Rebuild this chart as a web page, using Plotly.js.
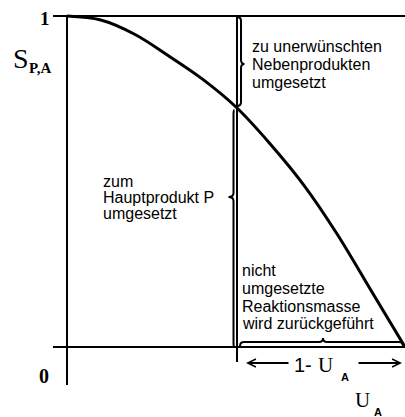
<!DOCTYPE html>
<html>
<head>
<meta charset="utf-8">
<script src="https://cdn.plot.ly/plotly-3.0.1.min.js"></script>
<style>html,body{margin:0;padding:0;background:#fff}#chart{width:405px;height:417px}</style>
</head>
<body>
<div id="chart"></div>
<script>
// ---- data ----
const conversionU = [0, 0.1, 0.2, 0.3, 0.4, 0.5, 0.6, 0.7, 0.8, 0.9, 1.0];
const selectivityS = [1, 0.988, 0.945, 0.88, 0.81, 0.725, 0.615, 0.49, 0.34, 0.17, 0];
const operatingU = 0.503;           // conversion at the vertical line
const upperText = ["zu unerwünschten", "Nebenprodukten", "umgesetzt"];
const leftText = ["zum", "Hauptprodukt P", "umgesetzt"];
const lowerText = ["nicht", "umgesetzte", "Reaktionsmasse", "wird zurückgeführt"];

// ---- geometry ----
const W = 405, H = 417;
const X0px = 67, X1px = 405, Y0px = 347, Y1px = 16;
const kx = X1px - X0px, ky = Y0px - Y1px;
const xr = [-X0px / kx, (W - X0px) / kx];
const yr = [(Y0px - H) / ky, Y0px / ky];
const fx = p => (p - X0px) / kx;
const fy = p => (Y0px - p) / ky;
const dx = p => p / kx, dy = p => p / ky;

function interp(x) {
  for (let i = 1; i < conversionU.length; i++) {
    if (x <= conversionU[i]) {
      const t = (x - conversionU[i-1]) / (conversionU[i] - conversionU[i-1]);
      return selectivityS[i-1] + t * (selectivityS[i] - selectivityS[i-1]);
    }
  }
  return selectivityS[selectivityS.length - 1];
}
const Sa = interp(operatingU);

const black = '#000';
function line(x0, y0, x1, y1, w) {
  return {type: 'line', xref: 'x', yref: 'y', x0, y0, x1, y1, line: {color: black, width: w}};
}
function pathShape(d, w) {
  return {type: 'path', xref: 'x', yref: 'y', path: d, line: {color: black, width: w}};
}
// vertical brace
function vBrace(xb, ya, yb, yt, dir, d, r, hook) {
  const P = (x, y) => x + ',' + y;
  const ex = xb - dir * dx(hook);
  return 'M' + P(ex, yb) + ' Q' + P(xb, yb) + ' ' + P(xb, yb - dy(r)) +
    ' L' + P(xb, yt + dy(r)) + ' Q' + P(xb, yt) + ' ' + P(xb + dir * dx(d), yt) +
    ' Q' + P(xb, yt) + ' ' + P(xb, yt - dy(r)) +
    ' L' + P(xb, ya + dy(r)) + ' Q' + P(xb, ya) + ' ' + P(ex, ya);
}
// horizontal brace (opening upward)
function hBrace(yb, xa, xbb, xt, d, r, hook) {
  const P = (x, y) => x + ',' + y;
  const ey = yb - dy(hook);
  return 'M' + P(xa, ey) + ' Q' + P(xa, yb) + ' ' + P(xa + dx(r), yb) +
    ' L' + P(xt - dx(r), yb) + ' Q' + P(xt, yb) + ' ' + P(xt, yb + dy(d)) +
    ' Q' + P(xt, yb) + ' ' + P(xt + dx(r), yb) +
    ' L' + P(xbb - dx(r), yb) + ' Q' + P(xbb, yb) + ' ' + P(xbb, ey);
}

const shapes = [
  line(fx(53), 1, 1, 1, 2),                 // top line S=1
  line(0, 1, 0, fy(385), 2),                // y axis
  line(fx(53), 0, 1, 0, 2),                 // x axis
  line(operatingU, 1, operatingU, fy(362), 2), // operating conversion line
  pathShape(vBrace(operatingU + dx(4), Sa + dy(2), 1 - dy(1), fy(64), 1, 3.5, 4, 4), 2),
  pathShape(vBrace(operatingU - dx(3.5), 0, Sa - dy(2), fy(197), -1, 5, 4, 1), 2),
  pathShape(hBrace(dy(5), operatingU + dx(3), 1 - dx(2), fx(323), 4, 4, 4), 2)
];

const sans = 'Liberation Sans, Arial, sans-serif';
const serif = 'Liberation Serif, Times New Roman, serif';
function ann(text, xp, yp, size, family, xanchor, bold) {
  return {x: fx(xp), y: fy(yp), xref: 'x', yref: 'y', text: bold ? '<b>' + text + '</b>' : text,
    showarrow: false, xanchor: xanchor || 'left', yanchor: 'middle', borderpad: 0,
    font: {size: size, family: family, color: black}};
}
const annotations = [];
const upperY = [46, 64.5, 82.5];
upperText.forEach((t, i) => annotations.push(ann(t, 251, upperY[i], 16, sans)));
const leftY = [181, 197.5, 213.5];
leftText.forEach((t, i) => annotations.push(ann(t, 102, leftY[i], 16, sans)));
const lowerY = [270.5, 288.5, 306, 323.5];
lowerText.forEach((t, i) => annotations.push(ann(t, 241, lowerY[i], 16, sans)));

annotations.push(ann('1', 45, 18.5, 19, serif, 'center', true));
annotations.push(ann('0', 43.5, 376, 20, serif, 'center', true));
annotations.push(ann('S', 20.5, 58, 28, serif, 'center'));
annotations.push(ann('P,A', 40.5, 68, 15, serif, 'center', true));
annotations.push(ann('1-', 302.5, 365, 20, sans, 'center'));
annotations.push(ann('U', 325, 365, 21, serif, 'center'));
annotations.push(ann('A', 345, 377, 11, sans, 'center', true));
annotations.push(ann('U', 362, 400, 21, serif, 'center'));
annotations.push(ann('A', 377.5, 411.5, 11, sans, 'center', true));

// arrows for 1 - U_A
annotations.push({x: fx(246), y: fy(363), ax: fx(290), ay: fy(363), xref: 'x', yref: 'y', axref: 'x', ayref: 'y',
  text: '', showarrow: true, arrowhead: 5, arrowwidth: 2, arrowsize: 0.8, arrowcolor: black, standoff: 0});
annotations.push({x: fx(402), y: fy(363), ax: fx(357), ay: fy(363), xref: 'x', yref: 'y', axref: 'x', ayref: 'y',
  text: '', showarrow: true, arrowhead: 5, arrowwidth: 2, arrowsize: 0.8, arrowcolor: black, standoff: 0});

const trace = {
  x: conversionU, y: selectivityS, type: 'scatter', mode: 'lines',
  line: {color: black, width: 3, shape: 'spline', smoothing: 1}, hoverinfo: 'skip'
};

const layout = {
  width: W, height: H, autosize: false,
  margin: {l: 0, r: 0, t: 0, b: 0, pad: 0},
  paper_bgcolor: '#fff', plot_bgcolor: '#fff',
  showlegend: false,
  xaxis: {range: xr, visible: false, fixedrange: true},
  yaxis: {range: yr, visible: false, fixedrange: true},
  shapes: shapes, annotations: annotations
};
Plotly.newPlot('chart', [trace], layout, {displayModeBar: false, staticPlot: true});
</script>
</body>
</html>
